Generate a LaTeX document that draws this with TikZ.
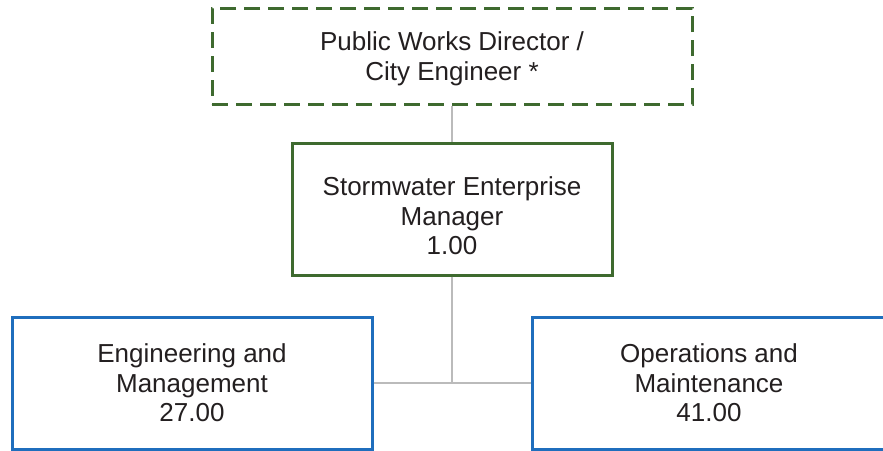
\documentclass[tikz,border=0pt]{standalone}
\usepackage{fontspec}
\setmainfont{Liberation Sans}
\definecolor{boxgreen}{HTML}{3E6A2F}
\definecolor{boxblue}{HTML}{1F6EBD}
\definecolor{linkgray}{HTML}{BBBBBB}
\definecolor{inktext}{HTML}{231F20}
\begin{document}
\begin{tikzpicture}[x=1pt,y=-1pt,
  orgbox/.style={rectangle, line width=3pt, fill=white, inner sep=0pt},
  orgtext/.style={align=center, inner sep=0pt,
    font=\fontsize{26pt}{29.5pt}\selectfont, text=inktext},
  greenbox/.style={orgbox, draw=boxgreen},
  dashbox/.style={greenbox, dash pattern=on 16pt off 8pt},
  bluebox/.style={orgbox, draw=boxblue},
  link/.style={draw=linkgray, line width=2pt}]
\useasboundingbox (0,0) rectangle (883,450);
\node[dashbox, minimum width=480pt, minimum height=96pt] (dir) at (452,56) {};
\node[orgtext] (dirtext) at ([yshift=-3pt]dir.center)
  {Public Works Director /\\City Engineer *};
\node[greenbox, minimum width=320pt, minimum height=132pt] (mgr) at (452,209) {};
\node[orgtext] (mgrtext) at ([yshift=-7pt]mgr.center)
  {Stormwater Enterprise\\Manager\\1.00};
\node[bluebox, minimum width=360pt, minimum height=132pt] (eng) at (192,383) {};
\node[orgtext] (engtext) at (eng.center)
  {Engineering and\\Management\\27.00};
\node[bluebox, minimum width=354pt, minimum height=132pt] (ops) at (709,383) {};
\node[orgtext] (opstext) at (ops.center)
  {Operations and\\Maintenance\\41.00};
\draw[link] (dir.south) -- (mgr.north);
\draw[link] (mgr.south) -- (mgr.south |- eng.east);
\draw[link] (eng.east) -- (ops.west);
\end{tikzpicture}
\end{document}
